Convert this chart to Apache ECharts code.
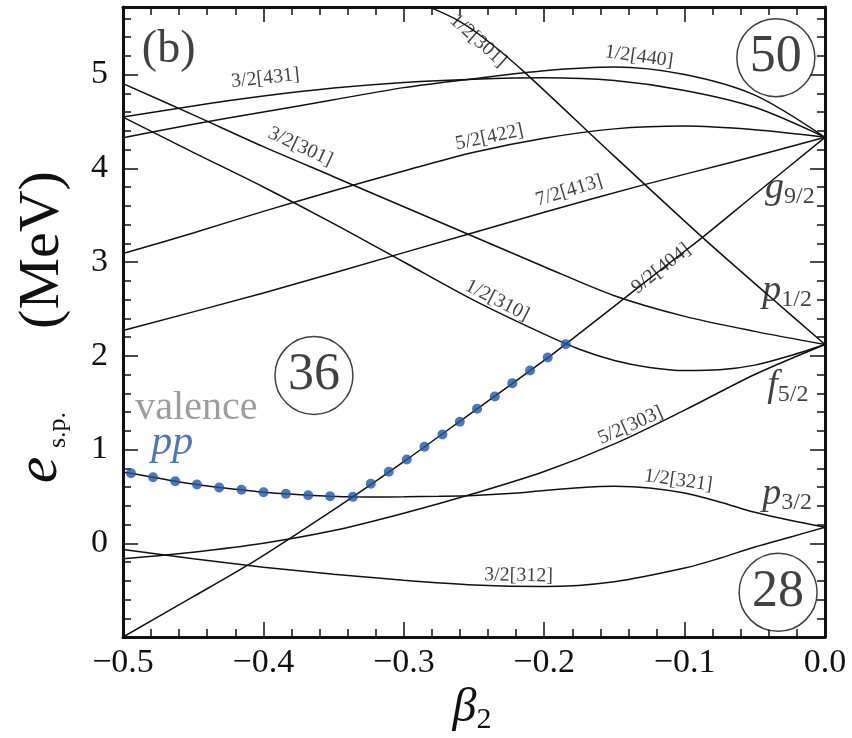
<!DOCTYPE html>
<html><head><meta charset="utf-8">
<script src="https://cdn.jsdelivr.net/npm/echarts@6/dist/echarts.min.js"></script>
<style>html,body{margin:0;padding:0;background:#fff}#c{width:852px;height:738px}</style>
</head><body><div id="c"></div>
<script>
const FONT = '"Liberation Serif","Times New Roman",serif';
const INK = '#111111';
const BLUE = '#1f55a6';

// Nilsson single-particle levels [beta2, e (MeV)]
const orb_9_2_404 = [[-0.5,-1.0],[-0.45,-0.57],[-0.413,-0.25],[-0.381,0.053],[-0.3363,0.495],[-0.3,0.87],[-0.25,1.41],[-0.2,1.95],[-0.1847,2.124],[-0.15,2.53],[-0.1,3.115],[-0.087,3.266],[-0.05,3.72],[0,4.33]];
const orb_1_2_321 = [[-0.5,0.758],[-0.4943,0.747],[-0.4786,0.704],[-0.4628,0.662],[-0.4473,0.626],[-0.4315,0.594],[-0.4156,0.570],[-0.3999,0.544],[-0.384,0.527],[-0.3681,0.512],[-0.3525,0.502],[-0.3363,0.495],[-0.32,0.494],[-0.3,0.496],[-0.275,0.501],[-0.25,0.51],[-0.225,0.53],[-0.2,0.562],[-0.175,0.592],[-0.15,0.607],[-0.125,0.59],[-0.1,0.535],[-0.075,0.44],[-0.05,0.33],[-0.025,0.245],[0,0.171]];
const orb_5_2_303 = [[-0.5,-0.166],[-0.45,-0.095],[-0.4,0.0],[-0.35,0.135],[-0.3,0.32],[-0.25,0.53],[-0.2,0.765],[-0.15,1.06],[-0.1,1.42],[-0.05,1.80],[0,2.12]];
const orb_3_2_312 = [[-0.5,-0.067],[-0.45,-0.165],[-0.4,-0.255],[-0.35,-0.33],[-0.3,-0.395],[-0.25,-0.445],[-0.2,-0.462],[-0.15,-0.41],[-0.1,-0.265],[-0.075,-0.16],[-0.05,-0.04],[-0.025,0.065],[0,0.171]];
const orb_7_2_413 = [[-0.5,2.27],[-0.4,2.67],[-0.3,3.10],[-0.2,3.53],[-0.13,3.82],[-0.065,4.07],[0,4.33]];
const orb_5_2_422 = [[-0.5,3.09],[-0.45,3.31],[-0.4,3.54],[-0.35,3.76],[-0.3,3.97],[-0.25,4.17],[-0.2,4.32],[-0.15,4.42],[-0.1,4.45],[-0.05,4.41],[0,4.33]];
const orb_3_2_431 = [[-0.5,4.546],[-0.45,4.665],[-0.4,4.77],[-0.35,4.855],[-0.3,4.915],[-0.25,4.95],[-0.2,4.965],[-0.15,4.935],[-0.1,4.83],[-0.05,4.65],[0,4.33]];
const orb_1_2_440 = [[-0.5,4.326],[-0.45,4.47],[-0.4,4.60],[-0.35,4.73],[-0.3,4.86],[-0.25,4.955],[-0.2,5.04],[-0.15,5.08],[-0.1,5.0],[-0.05,4.78],[0,4.33]];
const orb_3_2_301 = [[-0.5,4.903],[-0.45,4.57],[-0.4,4.23],[-0.35,3.91],[-0.3,3.59],[-0.25,3.27],[-0.2,2.95],[-0.15,2.64],[-0.1,2.42],[-0.05,2.26],[0,2.12]];
const orb_1_2_310 = [[-0.5,4.546],[-0.45,4.17],[-0.4,3.80],[-0.35,3.41],[-0.3,3.0],[-0.25,2.59],[-0.2,2.23],[-0.175,2.07],[-0.15,1.95],[-0.125,1.875],[-0.1,1.842],[-0.075,1.85],[-0.05,1.90],[-0.025,2.0],[0,2.12]];
const orb_1_2_301 = [[-0.30,5.82],[-0.2812,5.716],[-0.26,5.565],[-0.24,5.355],[-0.2137,5.02],[-0.1545,4.19],[-0.0871,3.26],[-0.04,2.64],[0,2.12]];

// valence pp points
const ppBeta = [-0.4943,-0.4786,-0.4628,-0.4473,-0.4315,-0.4156,-0.3999,-0.384,-0.3681,-0.3525,-0.3363,-0.3235,-0.3107,-0.2979,-0.2853,-0.2725,-0.2601,-0.2478,-0.2352,-0.2227,-0.2101,-0.1975,-0.1847];
const ppE    = [0.747,0.704,0.662,0.626,0.594,0.570,0.544,0.527,0.512,0.502,0.495,0.634,0.762,0.893,1.029,1.160,1.296,1.435,1.566,1.708,1.843,1.982,2.124];

// orbit labels: [beta, e, text, angle]
const orbitLabels = [
  [-0.3986,4.96,'3/2[431]',6],
  [-0.247,5.36,'1/2[301]',-42],
  [-0.1325,5.19,'1/2[440]',-8],
  [-0.239,4.33,'5/2[422]',12],
  [-0.3737,4.23,'3/2[301]',-25],
  [-0.1822,3.76,'7/2[413]',17],
  [-0.1167,2.93,'9/2[404]',38],
  [-0.2335,2.59,'1/2[310]',-27],
  [-0.1385,1.256,'5/2[303]',24],
  [-0.1045,0.669,'1/2[321]',-8],
  [-0.2183,-0.345,'3/2[312]',-1]
];
// spherical labels: [beta, e, letter, subscript]
const shellLabels = [
  [-0.025,3.79,'g','9/2'],
  [-0.027,2.69,'p','1/2'],
  [-0.0265,1.68,'f','5/2'],
  [-0.027,0.53,'p','3/2']
];
// magic numbers: [beta, e, text]
const magic = [[-0.035,5.18,'50'],[-0.364,1.79,'36'],[-0.0334,-0.523,'28']];

const xTicks = { min:-0.5, max:0, interval:0.1 };
const yRange = { min:-1, max:5.72 };

const chart = echarts.init(document.getElementById('c'), null, {renderer:'canvas'});

const lineSeries = (data) => ({
  type:'line', data, showSymbol:false, smooth:0.3, clip:true, silent:true,
  lineStyle:{color:INK, width:1.5}, xAxisIndex:0, yAxisIndex:0, z:3
});

const xfmt = v => (v < -1e-9 ? '\u2212' : '') + Math.abs(v).toFixed(1);

const baseX = (pos, labels) => ({
  type:'value', position:pos, min:xTicks.min, max:xTicks.max, interval:xTicks.interval,
  axisLine:{show:true, onZero:false, lineStyle:{color:INK, width:3}},
  axisTick:{show:true, inside:true, length:15, lineStyle:{color:INK, width:1.5}},
  minorTick:{show:true, splitNumber:5, length:8, lineStyle:{color:INK, width:1.5}},
  axisLabel:{show:labels, fontFamily:FONT, fontSize:34, color:INK, margin:9, formatter:xfmt},
  splitLine:{show:false}, minorSplitLine:{show:false}
});
const baseY = (pos, interval, len, labels, line) => ({
  type:'value', position:pos, min:yRange.min, max:yRange.max, interval,
  axisLine:{show:line, onZero:false, lineStyle:{color:INK, width:3}},
  axisTick:{show:true, inside:true, length:len, lineStyle:{color:INK, width:1.5}},
  axisLabel:{show:labels, fontFamily:FONT, fontSize:34, color:INK, margin:15,
    showMinLabel:false, showMaxLabel:false, formatter: v => String(Math.round(v))},
  splitLine:{show:false}
});

const option = {
  animation:false,
  backgroundColor:'#fff',
  grid:{left:123, right:27, top:7, bottom:101, containLabel:false},
  xAxis:[ baseX('bottom', true), baseX('top', false) ],
  yAxis:[ baseY('left',1,15,true,true), baseY('left',0.2,8,false,false),
          baseY('right',1,15,false,true), baseY('right',0.2,8,false,false) ],
  graphic:[
    { type:'text', x:43, y:250, rotation:Math.PI/2,
      style:{ text:'(MeV)', align:'center', verticalAlign:'middle', fill:INK,
              font:'normal 58px ' + FONT } },
    { type:'text', x:58, y:430, rotation:Math.PI/2,
      style:{ text:'s.p.', align:'center', verticalAlign:'middle', fill:INK,
              font:'normal 26px ' + FONT } },
    { type:'text', x:40, y:470, rotation:Math.PI/2,
      style:{ text:'e', align:'center', verticalAlign:'middle', fill:INK,
              font:'italic 60px ' + FONT } },
    { type:'text', x:472, y:708,
      style:{ text:'{b|\u03b2}{s|2}', align:'center', verticalAlign:'middle', fill:INK,
        rich:{ b:{fontFamily:FONT, fontStyle:'italic', fontSize:48, lineHeight:54, fill:INK},
               s:{fontFamily:FONT, fontSize:30, lineHeight:32, verticalAlign:'bottom', fill:INK} } } }
  ],
  series:[
    lineSeries(orb_9_2_404), lineSeries(orb_1_2_321), lineSeries(orb_5_2_303), lineSeries(orb_3_2_312),
    lineSeries(orb_7_2_413), lineSeries(orb_5_2_422), lineSeries(orb_3_2_431), lineSeries(orb_1_2_440),
    lineSeries(orb_3_2_301), lineSeries(orb_1_2_310), lineSeries(orb_1_2_301),
    { type:'scatter', name:'pp', data: ppBeta.map((b,i)=>[b, ppE[i]]), symbol:'circle', symbolSize:10,
      itemStyle:{color:BLUE}, z:6, silent:true },
    { type:'scatter', data: orbitLabels.map(d=>({value:[d[0],d[1]], label:{formatter:d[2], rotate:d[3]}})),
      symbolSize:0, silent:true, z:7,
      label:{show:true, position:'inside', fontFamily:FONT, fontSize:20, color:INK} },
    { type:'scatter', data: shellLabels.map(d=>({value:[d[0],d[1]], label:{formatter:'{l|'+d[2]+'}{s|'+d[3]+'}'}})),
      symbolSize:0, silent:true, z:7,
      label:{show:true, position:'inside', color:INK,
        rich:{ l:{fontFamily:FONT, fontStyle:'italic', fontSize:38, lineHeight:42, color:INK},
               s:{fontFamily:FONT, fontSize:24, lineHeight:26, verticalAlign:'bottom', color:INK} } } },
    { type:'scatter', data: magic.map(d=>({value:[d[0],d[1]], label:{formatter:d[2]}})),
      symbol:'circle', symbolSize:78, silent:true, z:8,
      itemStyle:{color:'#fff', borderColor:INK, borderWidth:1.5},
      label:{show:true, position:'inside', fontFamily:FONT, fontSize:52, color:INK} },
    { type:'scatter', data:[
        {value:[-0.4675,5.26], label:{formatter:'(b)', fontSize:46, color:INK}},
        {value:[-0.4477,1.44], label:{formatter:'valence', fontSize:40, color:'#858585'}},
        {value:[-0.4649,1.07], label:{formatter:'pp', fontSize:42, fontStyle:'italic', color:BLUE}}
      ],
      symbolSize:0, silent:true, z:8,
      label:{show:true, position:'inside', fontFamily:FONT} }
  ]
};
chart.setOption(option);
</script>
</body></html>
